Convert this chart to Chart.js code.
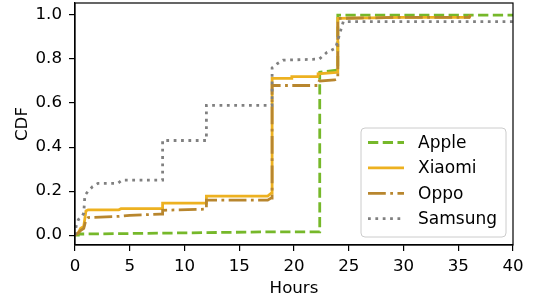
<!DOCTYPE html>
<html>
<head>
<meta charset="utf-8">
<script src="https://cdn.jsdelivr.net/npm/chart.js@4/dist/chart.umd.min.js"></script>
<style>
  html, body { margin: 0; padding: 0; background: #fff; }
  #wrap { width: 538px; height: 301px; position: relative; }
</style>
</head>
<body>
<div id="wrap"><canvas id="c" width="538" height="301"></canvas></div>
<script>
// ---- Data ----
const seriesNames = ["Apple", "Xiaomi", "Oppo", "Samsung"];

const appleX = [0, 0.3, 0.3, 1, 10, 18, 22.35, 22.35, 23.9, 24.0, 24.0, 40];
const appleY = [0, 0, 0.005, 0.005, 0.01, 0.015, 0.015, 0.74, 0.75, 0.75, 1.0, 1.0];

const xiaomiX = [0, 0.3, 0.5, 0.8, 1.0, 1.2, 4.0, 4.2, 8.0, 8.0, 12.0, 12.0, 17.6, 17.9, 18.0, 18.0, 19.8, 19.8, 22.2, 22.2, 23.9, 24.0, 24.0, 30, 36.0, 36.1];
const xiaomiY = [0, 0.01, 0.03, 0.04, 0.11, 0.115, 0.115, 0.12, 0.12, 0.145, 0.145, 0.177, 0.177, 0.19, 0.19, 0.712, 0.712, 0.72, 0.72, 0.733, 0.74, 0.74, 0.985, 0.99, 0.99, 1.0];

const oppoX = [0, 0.3, 0.5, 0.8, 1.0, 1.2, 4.0, 5.0, 7.8, 8.0, 8.0, 12.0, 12.0, 17.6, 17.9, 18.0, 18.0, 22.2, 22.3, 23.7, 24.0, 24.0, 30, 36.0, 36.1];
const oppoY = [0, 0.01, 0.02, 0.03, 0.07, 0.08, 0.085, 0.09, 0.095, 0.095, 0.113, 0.118, 0.159, 0.159, 0.168, 0.168, 0.68, 0.68, 0.70, 0.705, 0.71, 0.985, 0.99, 0.99, 1.0];

const samsungX = [0, 0.1, 0.3, 0.6, 0.8, 0.9, 1.2, 1.6, 2.1, 3.9, 4.3, 8.0, 8.0, 12.0, 12.0, 18.0, 18.0, 18.5, 19.0, 22.3, 23.0, 23.8, 24.2, 24.5, 40];
const samsungY = [0, 0.04, 0.07, 0.08, 0.1, 0.18, 0.2, 0.22, 0.235, 0.235, 0.25, 0.25, 0.43, 0.43, 0.59, 0.59, 0.76, 0.78, 0.795, 0.80, 0.83, 0.85, 0.92, 0.97, 0.97];

const xTicks = [0, 5, 10, 15, 20, 25, 30, 35, 40];
const yTicks = [0.0, 0.2, 0.4, 0.6, 0.8, 1.0];
const xTitle = "Hours";
const yTitle = "CDF";

// ---- Styles ----
const FONT = "'DejaVu Sans', sans-serif";
const FS = 16.67;
const LW = 2.78;
const styles = [
  { color: "#76b82a", dash: [3.7 * LW, 1.6 * LW], cap: "butt" },
  { color: "#edb120", dash: [], cap: "butt" },
  { color: "#b8862e", dash: [6.4 * LW, 1.6 * LW, 1 * LW, 1.6 * LW], cap: "butt" },
  { color: "#808080", dash: [1 * LW, 1.65 * LW], cap: "butt" }
];

function pts(xs, ys) { return xs.map((x, i) => ({ x: x, y: ys[i] })); }
const allData = [pts(appleX, appleY), pts(xiaomiX, xiaomiY), pts(oppoX, oppoY), pts(samsungX, samsungY)];

const datasets = seriesNames.map((name, i) => ({
  label: name,
  data: allData[i],
  borderColor: styles[i].color,
  backgroundColor: styles[i].color,
  borderWidth: LW,
  borderDash: styles[i].dash,
  borderCapStyle: styles[i].cap,
  borderJoinStyle: "miter",
  pointRadius: 0,
  pointHoverRadius: 0,
  tension: 0,
  fill: false,
  order: seriesNames.length - i
}));

const framePlugin = {
  id: "frame",
  afterDatasetsDraw(chart) {
    const { ctx, chartArea: a } = chart;
    ctx.save();
    ctx.strokeStyle = "#000";
    ctx.lineWidth = 1.2;
    ctx.strokeRect(a.left, a.top, a.right - a.left, a.bottom - a.top);
    ctx.restore();
  }
};

const legendPlugin = {
  id: "innerLegend",
  afterDraw(chart) {
    const { ctx, chartArea: a } = chart;
    const w = 145, h = 109;
    const right = a.right - 7, bottom = a.bottom - 8;
    const left = right - w, top = bottom - h;
    ctx.save();
    const r = 4;
    ctx.beginPath();
    ctx.moveTo(left + r, top);
    ctx.lineTo(right - r, top);
    ctx.quadraticCurveTo(right, top, right, top + r);
    ctx.lineTo(right, bottom - r);
    ctx.quadraticCurveTo(right, bottom, right - r, bottom);
    ctx.lineTo(left + r, bottom);
    ctx.quadraticCurveTo(left, bottom, left, bottom - r);
    ctx.lineTo(left, top + r);
    ctx.quadraticCurveTo(left, top, left + r, top);
    ctx.closePath();
    ctx.fillStyle = "rgba(255,255,255,0.8)";
    ctx.fill();
    ctx.strokeStyle = "#cccccc";
    ctx.lineWidth = 1;
    ctx.stroke();
    const rowH = 25.4;
    const firstY = top + 14.5;
    ctx.font = "17px " + FONT;
    ctx.textBaseline = "middle";
    ctx.textAlign = "left";
    seriesNames.forEach((name, i) => {
      const y = firstY + i * rowH;
      ctx.beginPath();
      ctx.setLineDash(styles[i].dash);
      ctx.lineCap = styles[i].cap;
      ctx.strokeStyle = styles[i].color;
      ctx.lineWidth = LW;
      ctx.moveTo(left + 7, y);
      ctx.lineTo(left + 43, y);
      ctx.stroke();
      ctx.setLineDash([]);
      ctx.fillStyle = "#000";
      ctx.fillText(name, left + 57, y + 1);
    });
    ctx.restore();
  }
};

new Chart(document.getElementById("c"), {
  type: "line",
  data: { datasets: datasets },
  options: {
    responsive: false,
    animation: false,
    devicePixelRatio: 1,
    layout: { padding: { left: 0, right: 25, top: 3, bottom: 0 } },
    plugins: { legend: { display: false }, tooltip: { enabled: false } },
    scales: {
      x: {
        type: "linear",
        min: 0, max: 40,
        afterBuildTicks(s) { s.ticks = xTicks.map(v => ({ value: v })); },
        afterFit(s) { s.height = 56; s.paddingLeft = 0; s.paddingRight = 0; },
        ticks: { font: { family: FONT, size: FS }, color: "#000", padding: 6, maxRotation: 0, autoSkip: false,
                 callback: v => String(v) },
        grid: { display: true, drawOnChartArea: false, drawTicks: true, tickLength: 6, color: "#000", lineWidth: 1.2 },
        border: { display: true, color: "#000", width: 1.2 },
        title: { display: true, text: xTitle, font: { family: FONT, size: FS }, color: "#000", padding: { top: 0, bottom: 2.4 } }
      },
      y: {
        type: "linear",
        min: -0.045, max: 1.055,
        afterBuildTicks(s) { s.ticks = yTicks.map(v => ({ value: v })); },
        afterFit(s) { s.width = 75; s.paddingTop = 0; s.paddingBottom = 0; },
        ticks: { font: { family: FONT, size: FS }, color: "#000", padding: 7, autoSkip: false,
                 callback: v => Number(v).toFixed(1) },
        grid: { display: true, drawOnChartArea: false, drawTicks: true, tickLength: 6, color: "#000", lineWidth: 1.2 },
        border: { display: true, color: "#000", width: 1.2 },
        title: { display: true, text: yTitle, font: { family: FONT, size: FS }, color: "#000", padding: { top: 12.4, bottom: 0 } }
      }
    }
  },
  plugins: [framePlugin, legendPlugin]
});
</script>
</body>
</html>
